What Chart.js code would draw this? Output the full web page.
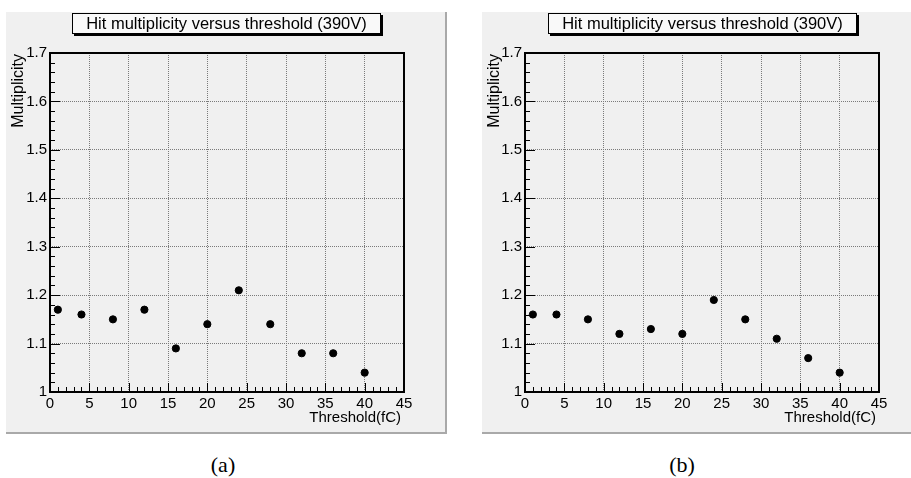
<!DOCTYPE html>
<html>
<head>
<meta charset="utf-8">
<script src="https://cdn.jsdelivr.net/npm/chart.js@4/dist/chart.umd.min.js"></script>
<style>
    body { margin: 0; width: 911px; height: 478px; background: #fff; position: relative; overflow: hidden; }
    .pad { position: absolute; top: 12px; height: 420px; background: #f0f0f0; }
    #padA { left: 6px; width: 439px; border-right: 2px solid #a9a9a9; border-bottom: 2px solid #a9a9a9; }
    #padB { left: 482px; width: 429px; border-bottom: 2px solid #a9a9a9; }
    .cap { position: absolute; top: 452px; font: 22px "Liberation Serif", "Times New Roman", serif; transform: translateX(-50%); }
</style>
</head>
<body>
<div class="pad" id="padA"><canvas id="chartA" width="439" height="420"></canvas></div>
<div class="pad" id="padB"><canvas id="chartB" width="429" height="420"></canvas></div>
<div class="cap" style="left:223px">(a)</div>
<div class="cap" style="left:682px">(b)</div>

<script>
// threshold scan at 390V, two chambers
const thresholds = [1, 4, 8, 12, 16, 20, 24, 28, 32, 36, 40];
const multA = [1.17, 1.16, 1.15, 1.17, 1.09, 1.14, 1.21, 1.14, 1.08, 1.08, 1.04];
const multB = [1.16, 1.16, 1.15, 1.12, 1.13, 1.12, 1.19, 1.15, 1.11, 1.07, 1.04];

const xTicks = [0, 5, 10, 15, 20, 25, 30, 35, 40, 45];
const yTicks = [1, 1.1, 1.2, 1.3, 1.4, 1.5, 1.6, 1.7];

const TITLE = 'Hit multiplicity versus threshold (390V)';
const X_TITLE = 'Threshold(fC)';
const Y_TITLE = 'Multiplicity';
const FONT = '"Liberation Sans", Arial, sans-serif';

// ── ROOT-like frame: box, inward ticks, axis titles, title box ──
const rootFrame = {
    id: 'rootFrame',
    afterDraw(chart) {
        const ctx = chart.ctx;
        const a = chart.chartArea;
        const xs = chart.scales.x, ys = chart.scales.y;
        ctx.save();

        // ticks on y (major 0.1, minor 0.02)
        ctx.strokeStyle = '#000';
        ctx.lineWidth = 1;
        ctx.beginPath();
        for (let i = 0; i <= 35; i++) {
            const v = 1 + i * 0.02;
            const py = Math.round(ys.getPixelForValue(v)) + 0.5;
            const len = (i % 5 === 0) ? 10 : 5;
            ctx.moveTo(a.left, py);
            ctx.lineTo(a.left + len, py);
        }
        // ticks on x (major 5, minor 1)
        for (let i = 0; i <= 45; i++) {
            const px = Math.round(xs.getPixelForValue(i)) + 0.5;
            const len = (i % 5 === 0) ? 9 : 5;
            ctx.moveTo(px, a.bottom);
            ctx.lineTo(px, a.bottom - len);
        }
        ctx.stroke();

        // frame
        ctx.lineWidth = 2;
        ctx.strokeRect(a.left, a.top, a.right - a.left, a.bottom - a.top);

        // axis titles
        ctx.fillStyle = '#000';
        ctx.font = '15px ' + FONT;
        ctx.textAlign = 'right';
        ctx.textBaseline = 'middle';
        ctx.fillText(X_TITLE, a.right - 3, a.bottom + 26);

        ctx.save();
        ctx.translate(13, a.top);
        ctx.rotate(-Math.PI / 2);
        ctx.font = '16px ' + FONT;
        ctx.textAlign = 'right';
        ctx.textBaseline = 'middle';
        ctx.fillText(Y_TITLE, -1, 0);
        ctx.restore();

        // title box with shadow
        const bx = 66, by = 1, bw = 309, bh = 21;
        ctx.fillStyle = '#000';
        ctx.fillRect(bx + 2, by + 2, bw, bh);
        ctx.fillStyle = '#f9f9f9';
        ctx.fillRect(bx, by, bw, bh);
        ctx.lineWidth = 1;
        ctx.strokeRect(bx + 0.5, by + 0.5, bw - 1, bh - 1);
        ctx.fillStyle = '#000';
        ctx.font = '16.5px ' + FONT;
        ctx.textAlign = 'center';
        ctx.textBaseline = 'middle';
        ctx.fillText(TITLE, bx + bw / 2, by + bh / 2 + 1);

        ctx.restore();
    }
};

function makePanel(id, values, plotLeft, plotRight) {
    const canvas = document.getElementById(id);
    const w = canvas.width;
    return new Chart(canvas.getContext('2d'), {
        type: 'scatter',
        data: {
            datasets: [{
                data: thresholds.map((t, i) => ({ x: t, y: values[i] })),
                backgroundColor: '#000',
                borderColor: '#000',
                pointRadius: 3.6,
                pointHoverRadius: 3.6
            }]
        },
        options: {
            responsive: false,
            animation: false,
            events: [],
            layout: { padding: { left: 0, top: 41, right: w - plotRight, bottom: 0 } },
            plugins: { legend: { display: false }, tooltip: { enabled: false } },
            scales: {
                x: {
                    type: 'linear',
                    min: 0, max: 45,
                    afterBuildTicks: s => { s.ticks = xTicks.map(v => ({ value: v })); },
                    afterFit: s => { s.height = 40; },
                    ticks: { color: '#000', padding: 3, maxRotation: 0, font: { family: FONT, size: 15 } },
                    grid: { color: '#7a7a7a', drawTicks: false },
                    border: { display: false, dash: [1, 1] }
                },
                y: {
                    min: 1, max: 1.7,
                    afterBuildTicks: s => { s.ticks = yTicks.map(v => ({ value: v })); },
                    afterFit: s => { s.width = plotLeft; },
                    ticks: {
                        color: '#000', padding: 3,
                        font: { family: FONT, size: 15 },
                        callback: v => (v === 1 ? '1' : v.toFixed(1))
                    },
                    grid: { color: '#7a7a7a', drawTicks: false },
                    border: { display: false, dash: [1, 1] }
                }
            }
        },
        plugins: [rootFrame]
    });
}

makePanel('chartA', multA, 44, 398);
makePanel('chartB', multB, 43, 397);
</script>
</body>
</html>
